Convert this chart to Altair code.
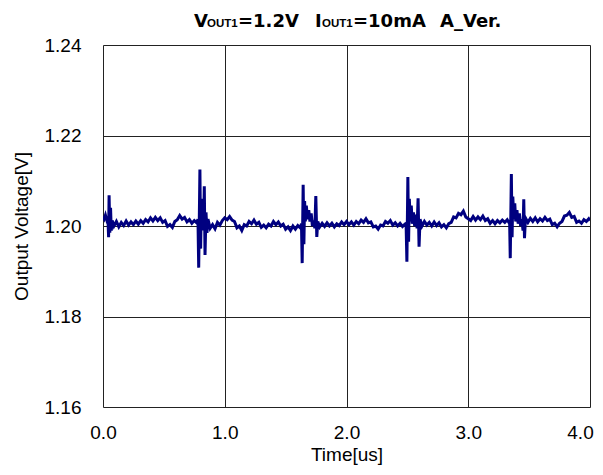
import altair as alt
import pandas as pd

# ---- data (time in us, voltage in V) ----
time_us = [
    0.000, 0.010, 0.020, 0.030, 0.040,
    0.046, 0.050, 0.056, 0.062, 0.068, 0.075,
    0.09, 0.11, 0.13, 0.15, 0.17, 0.19, 0.21, 0.23, 0.25, 0.27, 0.29, 0.31, 0.33, 0.35,
    0.37, 0.39, 0.41, 0.43, 0.45, 0.47, 0.49, 0.51, 0.53, 0.55, 0.57, 0.59, 0.61, 0.63,
    0.65, 0.67, 0.69, 0.71, 0.73, 0.75, 0.77,
    0.780, 0.786, 0.796, 0.802, 0.808, 0.814, 0.820, 0.826, 0.832, 0.838, 0.846, 0.854, 0.862,
    0.88, 0.90, 0.92, 0.94, 0.96, 0.98, 1.00, 1.02, 1.04, 1.06, 1.08, 1.10, 1.12, 1.14,
    1.16, 1.18, 1.20, 1.22, 1.24, 1.26, 1.28, 1.30, 1.32, 1.34, 1.36, 1.38, 1.40, 1.42,
    1.44, 1.46, 1.48, 1.50, 1.52, 1.54, 1.56, 1.58, 1.60, 1.62,
    1.630, 1.636, 1.644, 1.650, 1.656, 1.662, 1.670, 1.680, 1.690, 1.700, 1.710, 1.720,
    1.730, 1.740, 1.748, 1.756, 1.764,
    1.78, 1.80, 1.82, 1.84, 1.86, 1.88, 1.90, 1.92, 1.94, 1.96, 1.98, 2.00, 2.02, 2.04,
    2.06, 2.08, 2.10, 2.12, 2.14, 2.16, 2.18, 2.20, 2.22, 2.24, 2.26, 2.28, 2.30, 2.32,
    2.34, 2.36, 2.38, 2.40, 2.42, 2.44, 2.46, 2.48,
    2.490, 2.496, 2.504, 2.510, 2.516, 2.524, 2.532, 2.540, 2.550, 2.560, 2.570, 2.580,
    2.588, 2.596, 2.604,
    2.62, 2.64, 2.66, 2.68, 2.70, 2.72, 2.74, 2.76, 2.78, 2.80, 2.82, 2.84, 2.86, 2.88,
    2.90, 2.92, 2.94, 2.96, 2.98, 3.00, 3.02, 3.04, 3.06, 3.08, 3.10, 3.12, 3.14, 3.16,
    3.18, 3.20, 3.22, 3.24, 3.26, 3.28, 3.30, 3.32, 3.34,
    3.345, 3.354, 3.360, 3.366, 3.374, 3.382, 3.390, 3.400, 3.410, 3.420, 3.430, 3.440,
    3.450, 3.456, 3.462, 3.470,
    3.49, 3.51, 3.53, 3.55, 3.57, 3.59, 3.61, 3.63, 3.65, 3.67, 3.69, 3.71, 3.73, 3.75,
    3.77, 3.79, 3.81, 3.83, 3.85, 3.87, 3.89, 3.91, 3.93, 3.95, 3.97, 3.99, 4.00,
]

voltage_v = [
    1.2022, 1.2016, 1.2024, 1.2014, 1.2020,
    1.1975, 1.2068, 1.1985, 1.2040, 1.1990, 1.2012,
    1.2000, 1.2010, 1.1998, 1.2008, 1.2001, 1.2011, 1.2002, 1.2009, 1.2003, 1.2011, 1.2004, 1.2012, 1.2006, 1.2014,
    1.2009, 1.2018, 1.2011, 1.2019, 1.2012, 1.2018, 1.2008, 1.2012, 1.1999, 1.2003, 1.1997, 1.2010, 1.2014, 1.2023,
    1.2015, 1.2019, 1.2009, 1.2014, 1.2006, 1.2012, 1.2007,
    1.2015, 1.1908, 1.2125, 1.1950, 1.2060, 1.2000, 1.2050, 1.1990, 1.2088, 1.1936, 1.2030, 1.1985, 1.2015,
    1.1995, 1.2003, 1.1994, 1.2008, 1.2002, 1.2012, 1.2018, 1.2014, 1.2021, 1.2013, 1.2010, 1.1996, 1.2000, 1.1990,
    1.2003, 1.2000, 1.2010, 1.2005, 1.2013, 1.2004, 1.2008, 1.1997, 1.2002, 1.1996, 1.2004, 1.2000, 1.2010, 1.2003,
    1.2009, 1.2000, 1.2004, 1.1993, 1.1998, 1.1990, 1.2000, 1.1993, 1.2001, 1.1996,
    1.2005, 1.1918, 1.2091, 1.1960, 1.2055, 1.2010, 1.2045, 1.2015, 1.2035, 1.2010, 1.2028, 1.2000,
    1.2012, 1.1995, 1.2066, 1.1976, 1.2010,
    1.1998, 1.2006, 1.1999, 1.2007, 1.2000, 1.2006, 1.1998, 1.2005, 1.2001, 1.2009, 1.2003, 1.2010, 1.2003, 1.2009,
    1.2002, 1.2010, 1.2005, 1.2013, 1.2008, 1.2016, 1.2007, 1.2009, 1.1998, 1.2000, 1.1993, 1.2002, 1.2000, 1.2010,
    1.2006, 1.2012, 1.2002, 1.2007, 1.2000, 1.2006, 1.1999, 1.2004,
    1.1998, 1.1921, 1.2108, 1.1965, 1.2060, 1.2010, 1.2045, 1.2005, 1.2030, 1.2000, 1.2025, 1.1995,
    1.2061, 1.1954, 1.2015,
    1.2000, 1.2010, 1.2002, 1.2008, 1.2000, 1.2009, 1.2001, 1.2007, 1.1998, 1.2003, 1.1996, 1.2005, 1.2008, 1.2020,
    1.2018, 1.2028, 1.2025, 1.2033, 1.2020, 1.2016, 1.2012, 1.2021, 1.2013, 1.2020, 1.2014, 1.2022, 1.2012, 1.2016,
    1.2006, 1.2012, 1.2005, 1.2012, 1.2007, 1.2013, 1.2008, 1.2014, 1.2005,
    1.1929, 1.2115, 1.1975, 1.2065, 1.2015, 1.2050, 1.2010, 1.2035, 1.2005, 1.2028, 1.2000, 1.2015,
    1.1990, 1.2059, 1.1973, 1.2018,
    1.2008, 1.2017, 1.2010, 1.2018, 1.2009, 1.2016, 1.2011, 1.2019, 1.2012, 1.2015, 1.2003, 1.2006, 1.1998, 1.2006,
    1.2010, 1.2022, 1.2024, 1.2030, 1.2019, 1.2021, 1.2008, 1.2011, 1.2006, 1.2014, 1.2010, 1.2016, 1.2012,
]

x_ticks = [0.0, 1.0, 2.0, 3.0, 4.0]
y_ticks = [1.16, 1.18, 1.20, 1.22, 1.24]

# title pieces — "OUT1" parts are the small-cap subscripts
title_parts = ["V", "OUT1", "=1.2V", "I", "OUT1", "=10mA", "A_Ver."]
title_fonts = ["DejaVu Sans", "Liberation Sans", "DejaVu Sans", "DejaVu Sans",
               "Liberation Sans", "DejaVu Sans", "DejaVu Sans"]
title_sizes = [18, 11.5, 18, 18, 11.5, 18, 18]
title_x = [91, 104, 135, 212, 219, 250, 337]

df = pd.DataFrame({"t": time_us, "v": voltage_v})

W, H = 487, 362
FONT = "Liberation Sans"

x_enc = alt.X(
    "t:Q",
    scale=alt.Scale(domain=[0, 4], nice=False, zero=False),
    axis=alt.Axis(
        values=x_ticks, format=".1f", title="Time[us]",
        labelFont=FONT, labelFontSize=19, labelColor="black", labelPadding=16,
        labelOffset=alt.expr("datum.value >= 4 ? -10 : 0"),
        titleFont=FONT, titleFontSize=19, titleFontWeight="normal", titleColor="black",
        titlePadding=3, tickSize=0, domain=False,
        grid=True, gridColor="#222222", gridWidth=1, labelFlush=False,
    ),
)
y_enc = alt.Y(
    "v:Q",
    scale=alt.Scale(domain=[1.16, 1.24], nice=False, zero=False),
    axis=alt.Axis(
        values=y_ticks, format=".2f", title="Output Voltage[V]",
        labelFont=FONT, labelFontSize=19, labelColor="black", labelPadding=22,
        titleFont=FONT, titleFontSize=19, titleFontWeight="normal", titleColor="black",
        titlePadding=13, tickSize=0, domain=False,
        grid=True, gridColor="#222222", gridWidth=1, labelFlush=False,
    ),
)

line = alt.Chart(df).mark_line(color="#000080", strokeWidth=3, clip=True).encode(
    x=x_enc, y=y_enc
)

layers = [line]
for txt, fnt, sz, xp in zip(title_parts, title_fonts, title_sizes, title_x):
    layers.append(
        alt.Chart(pd.DataFrame({"a": [0]})).mark_text(
            text=txt, font=fnt, fontWeight="bold", fontSize=sz,
            align="left", baseline="alphabetic", color="black",
        ).encode(x=alt.value(xp), y=alt.value(-18.5))
    )

chart = alt.layer(*layers).properties(
    width=W, height=H,
    autosize=alt.AutoSizeParams(type="none"),
    padding={"left": 95, "top": 37, "right": 5, "bottom": 60},
).configure_view(stroke="black", strokeWidth=1.5).configure(background="white")

chart.save("out.html", embed_options={"renderer": "svg", "actions": False})
